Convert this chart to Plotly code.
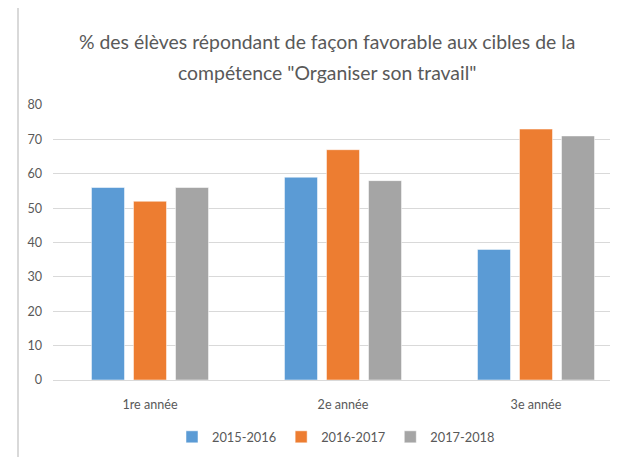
import plotly.graph_objects as go

categories = ["1re année", "2e année", "3e année"]
series_names = ["2015-2016", "2016-2017", "2017-2018"]
values_2015 = [56, 59, 38]
values_2016 = [52, 67, 73]
values_2017 = [56, 58, 71]
colors = ["#5B9BD5", "#ED7D31", "#A5A5A5"]
y_ticks = [0, 10, 20, 30, 40, 50, 60, 70, 80]
title_line1 = "% des élèves répondant de façon favorable aux cibles de la"
title_line2 = "compétence \"Organiser son travail\""

FONT = "Lato, sans-serif"
TXT = "#595959"

OFF = 8  # page body margin
W, H = 618 - OFF, 457 - OFF
L, R, T, B = 53 - OFF, 0, 105 - OFF, 457 - 380
pw = W - L - R
ph = H - T - B

fig = go.Figure()
for name, vals, col in zip(series_names, [values_2015, values_2016, values_2017], colors):
    fig.add_trace(go.Bar(
        x=list(range(len(categories))), y=vals, name=name,
        marker=dict(color=col, line=dict(color="rgba(255,255,255,0.5)", width=1)),
    ))

def px_x(p):  # page pixel -> paper
    return (p - OFF - L) / pw

def px_y(p):
    return (H - B - (p - OFF)) / ph

fig.update_layout(
    width=W, height=H,
    margin=dict(l=L, r=R, t=T, b=B, pad=0),
    paper_bgcolor="white", plot_bgcolor="white",
    barmode="group", bargap=0.347, bargroupgap=0.214,
    font=dict(family=FONT, color=TXT, size=12.6),
    showlegend=True,
    legend=dict(orientation="h", x=px_x(336), xanchor="center", y=px_y(437), yanchor="middle",
                font=dict(size=12.8, color=TXT), itemwidth=30, traceorder="normal",
                bgcolor="rgba(0,0,0,0)"),
    xaxis=dict(range=[-0.5026, -0.5026 + pw / 193], tickmode="array",
               tickvals=list(range(len(categories))), ticktext=categories,
               showgrid=False, zeroline=False, showline=False, ticks="",
               ticklabelstandoff=15, tickfont=dict(size=12.6, color=TXT)),
    yaxis=dict(range=[0, 80], tickmode="array", tickvals=y_ticks,
               showgrid=True, gridcolor="#D9D9D9", gridwidth=1,
               zeroline=True, zerolinecolor="#D9D9D9", zerolinewidth=1,
               showline=False, ticks="", ticklabelstandoff=10,
               tickfont=dict(size=12.6, color=TXT)),
    annotations=[
        dict(text=title_line1, x=px_x(327), y=px_y(41), xref="paper", yref="paper",
             showarrow=False, xanchor="center", yanchor="middle",
             font=dict(size=19.4, color=TXT, family=FONT)),
        dict(text=title_line2, x=px_x(327), y=px_y(73), xref="paper", yref="paper",
             showarrow=False, xanchor="center", yanchor="middle",
             font=dict(size=19.4, color=TXT, family=FONT)),
    ],
    shapes=[
        dict(type="line", xref="paper", yref="paper", x0=px_x(18), x1=px_x(18),
             y0=px_y(7), y1=px_y(470), line=dict(color="#D9D9D9", width=2)),
        dict(type="line", xref="paper", yref="paper", x0=px_x(18), x1=px_x(630),
             y0=px_y(7), y1=px_y(7), line=dict(color="#D9D9D9", width=2)),
    ],
)

fig.write_html("out.html")
